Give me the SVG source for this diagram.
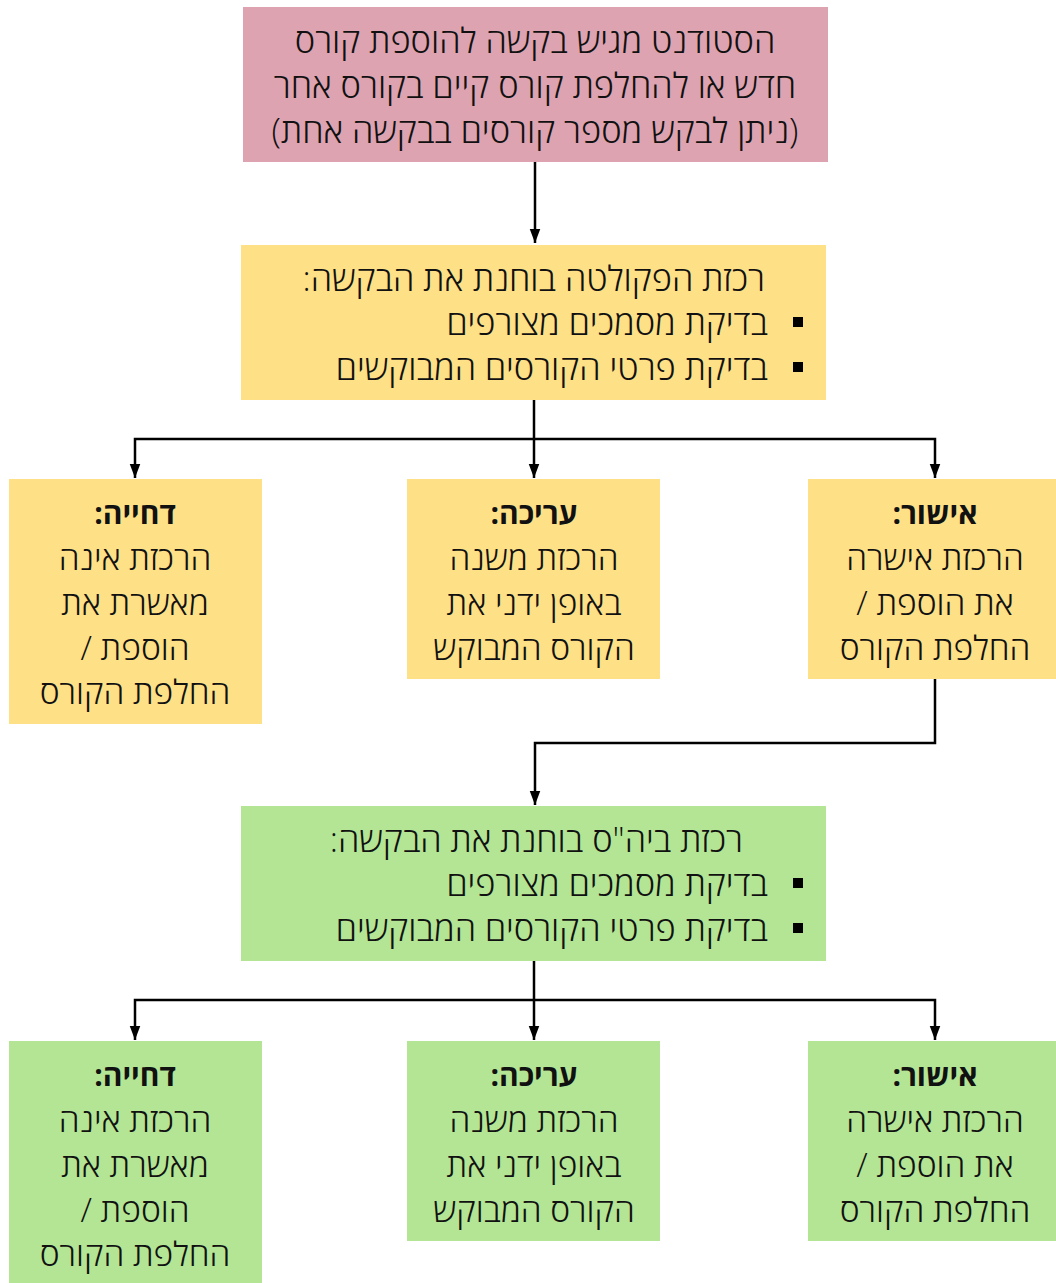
<svg xmlns="http://www.w3.org/2000/svg" width="1056" height="1283" viewBox="0 0 1056 1283">
<style>
text{font-family:"Open Sans","DejaVu Sans",sans-serif;font-size:33.5px;font-weight:300;fill:#111;direction:rtl}
.w{font-size:34.4px}
.c{text-anchor:middle}
.r{text-anchor:start}
.b{font-weight:bold;font-size:30px}
.pink{fill:#DDA3B0}
.yel{fill:#FEE087}
.grn{fill:#B3E594}
.con{fill:none;stroke:#000;stroke-width:2.5}
</style>
<defs>
<marker id="ah" markerUnits="userSpaceOnUse" markerWidth="14" markerHeight="18" viewBox="0 0 16 12" refX="16" refY="6" orient="auto">
<path d="M0,0 L16,6 L0,12 Z" fill="#000"/>
</marker>
</defs>
<g id="connectors">
<path class="con" d="M535 162 V243" marker-end="url(#ah)"/>
<path class="con" d="M534 400 V478" marker-end="url(#ah)"/>
<path class="con" d="M534 439 H135 V478" marker-end="url(#ah)"/>
<path class="con" d="M534 439 H935 V478" marker-end="url(#ah)"/>
<path class="con" d="M935 679 V743 H535 V805" marker-end="url(#ah)"/>
<path class="con" d="M534 961 V1040" marker-end="url(#ah)"/>
<path class="con" d="M534 1000 H135 V1040" marker-end="url(#ah)"/>
<path class="con" d="M534 1000 H935 V1040" marker-end="url(#ah)"/>
</g>
<g id="start">
<rect class="pink" x="243" y="7" width="585" height="155"/>
<text class="c w" x="535" y="53">הסטודנט מגיש בקשה להוספת קורס</text>
<text class="c w" x="535" y="98">חדש או להחלפת קורס קיים בקורס אחר</text>
<text class="c w" x="535" y="143">(ניתן לבקש מספר קורסים בבקשה אחת)</text>
</g>
<g id="faculty">
<rect class="yel" x="241" y="245" width="585" height="155"/>
<text class="r w" x="765" y="291">רכזת הפקולטה בוחנת את הבקשה:</text>
<rect x="793" y="317" width="10" height="10" fill="#000"/>
<text class="r w" x="768" y="335">בדיקת מסמכים מצורפים</text>
<rect x="793" y="362" width="10" height="10" fill="#000"/>
<text class="r w" x="768" y="380">בדיקת פרטי הקורסים המבוקשים</text>
</g>
<g id="fac-reject">
<rect class="yel" x="9" y="479" width="253" height="245"/>
<text class="c b" x="135" y="524">דחייה:</text>
<text class="c" x="135" y="570">הרכזת אינה</text>
<text class="c" x="135" y="615">מאשרת את</text>
<text class="c" x="135" y="660">הוספת /</text>
<text class="c" x="135" y="704">החלפת הקורס</text>
</g>
<g id="fac-edit">
<rect class="yel" x="407" y="479" width="253" height="200"/>
<text class="c b" x="534" y="524">עריכה:</text>
<text class="c" x="534" y="570">הרכזת משנה</text>
<text class="c" x="534" y="615">באופן ידני את</text>
<text class="c" x="534" y="660">הקורס המבוקש</text>
</g>
<g id="fac-approve">
<rect class="yel" x="808" y="479" width="248" height="200"/>
<text class="c b" x="935" y="524">אישור:</text>
<text class="c" x="935" y="570">הרכזת אישרה</text>
<text class="c" x="935" y="615">את הוספת /</text>
<text class="c" x="935" y="660">החלפת הקורס</text>
</g>
<g id="school">
<rect class="grn" x="241" y="806" width="585" height="155"/>
<text class="r w" x="743" y="852">רכזת ביה"ס בוחנת את הבקשה:</text>
<rect x="793" y="878" width="10" height="10" fill="#000"/>
<text class="r w" x="768" y="896">בדיקת מסמכים מצורפים</text>
<rect x="793" y="923" width="10" height="10" fill="#000"/>
<text class="r w" x="768" y="941">בדיקת פרטי הקורסים המבוקשים</text>
</g>
<g id="sch-reject">
<rect class="grn" x="9" y="1041" width="253" height="242"/>
<text class="c b" x="135" y="1086">דחייה:</text>
<text class="c" x="135" y="1132">הרכזת אינה</text>
<text class="c" x="135" y="1177">מאשרת את</text>
<text class="c" x="135" y="1222">הוספת /</text>
<text class="c" x="135" y="1266">החלפת הקורס</text>
</g>
<g id="sch-edit">
<rect class="grn" x="407" y="1041" width="253" height="200"/>
<text class="c b" x="534" y="1086">עריכה:</text>
<text class="c" x="534" y="1132">הרכזת משנה</text>
<text class="c" x="534" y="1177">באופן ידני את</text>
<text class="c" x="534" y="1222">הקורס המבוקש</text>
</g>
<g id="sch-approve">
<rect class="grn" x="808" y="1041" width="248" height="200"/>
<text class="c b" x="935" y="1086">אישור:</text>
<text class="c" x="935" y="1132">הרכזת אישרה</text>
<text class="c" x="935" y="1177">את הוספת /</text>
<text class="c" x="935" y="1222">החלפת הקורס</text>
</g>
</svg>
